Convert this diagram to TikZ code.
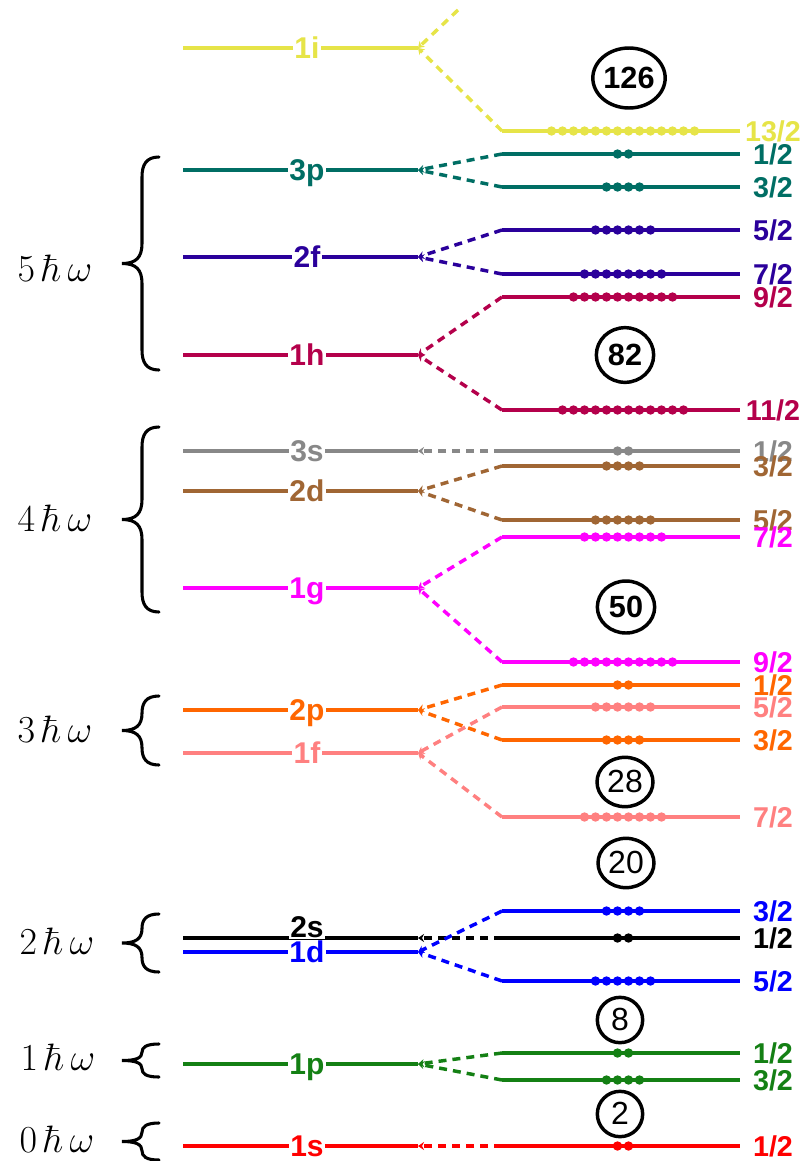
\documentclass[tikz,border=0pt]{standalone}
\usepackage{graphicx}
\usepackage[no-math]{fontspec}
\setmainfont{Liberation Sans}
\usetikzlibrary{arrows.meta,shapes.geometric}

% shell colours
\definecolor{cI}{RGB}{230,228,72}
\definecolor{cPthree}{RGB}{0,110,100}
\definecolor{cFtwo}{RGB}{42,0,155}
\definecolor{cHone}{RGB}{180,0,75}
\definecolor{cSthree}{RGB}{136,136,136}
\definecolor{cDtwo}{RGB}{160,102,52}
\definecolor{cGone}{RGB}{255,0,255}
\definecolor{cPtwo}{RGB}{255,102,0}
\definecolor{cFone}{RGB}{255,128,128}
\definecolor{cDone}{RGB}{0,0,255}
\definecolor{cPone}{RGB}{20,128,20}
\definecolor{cSone}{RGB}{255,0,0}

\tikzset{
  shellline/.style={line width=2.6pt},
  conn/.style={line width=2.6pt, dash pattern=on 6pt off 4.5pt,
    -{Stealth[length=4.5pt,width=6pt]}},
  lvl/.style={font=\fontsize{22.5}{24}\selectfont\bfseries, fill=white,
    inner xsep=1.2pt, inner ysep=1pt, text height=16pt, text depth=0pt},
  jlab/.style={font=\fontsize{21.5}{23}\selectfont\bfseries, inner sep=0pt,
    text height=15.4pt, text depth=0pt},
  magic/.style={draw, line width=2.6pt, ellipse, inner sep=0pt,
    text height=16pt, text depth=0pt},
  hw/.style={font=\Huge, inner sep=0pt},
  bracepath/.style={line width=2.3pt, line cap=round},
}

% oscillator level: name, y, colour, label, label y
\newcommand\leftlevel[5]{%
  \coordinate (#1w) at (183,#2);
  \coordinate (#1e) at (418,#2);
  \draw[shellline,#3] (#1w) -- (#1e);
  \node[lvl,text=#3] (#1lab) at (307,#5) {#4};
}
% spin-orbit level: name, y, colour, label, number of nucleons
\newcommand\rightlevel[5]{%
  \coordinate (#1w) at (502,#2);
  \coordinate (#1e) at (740,#2);
  \draw[shellline,#3] (#1w) -- (#1e);
  \foreach \k in {1,...,#5}
    \fill[#3] ({623+(\k-(#5+1)/2)*11},#2) circle (4.7);
  \node[jlab,text=#3] (#1lab) at (773,#2) {#4};
}
% curly brace: top, bottom
\newcommand\shellbrace[2]{%
  \pgfmathsetmacro\bm{(#1+#2)/2}%
  \pgfmathsetmacro\br{min(20,(#2-#1)/4)}%
  \draw[bracepath] (159,#1) .. controls (146,#1) and (142,#1+\br*0.4) .. (142,#1+\br)
    -- (142,\bm-\br) .. controls (142,\bm-\br*0.3) and (136,\bm) .. (122,\bm)
    .. controls (136,\bm) and (142,\bm+\br*0.3) .. (142,\bm+\br)
    -- (142,#2-\br) .. controls (142,#2-\br*0.4) and (146,#2) .. (159,#2);
}
\newcommand\linkto[3]{\draw[conn,#1] (#2) -- (#3);}
\newcommand\quantum[1]{\scalebox{1.15}{$#1\,\hbar\,\omega$}}

\begin{document}
\begin{tikzpicture}[x=0.75pt,y=-0.75pt]
\useasboundingbox (0,0) rectangle (805,1161);

% harmonic oscillator levels
\leftlevel{Li}{48}{cI}{1i}{48}
\leftlevel{Lpthree}{170}{cPthree}{3p}{170}
\leftlevel{Lftwo}{257}{cFtwo}{2f}{257}
\leftlevel{Lhone}{355}{cHone}{1h}{355}
\leftlevel{Lsthree}{451}{cSthree}{3s}{451}
\leftlevel{Ldtwo}{491}{cDtwo}{2d}{491}
\leftlevel{Lgone}{588}{cGone}{1g}{588}
\leftlevel{Lptwo}{710}{cPtwo}{2p}{710}
\leftlevel{Lfone}{753}{cFone}{1f}{753}
\leftlevel{Lstwo}{938}{black}{2s}{927}
\leftlevel{Ldone}{952}{cDone}{1d}{952}
\leftlevel{Lpone}{1064}{cPone}{1p}{1064}
\leftlevel{Lsone}{1146}{cSone}{1s}{1146}

% split levels
\rightlevel{Ri}{131}{cI}{13/2}{14}
\rightlevel{Rpthreea}{154}{cPthree}{1/2}{2}
\rightlevel{Rpthreeb}{187}{cPthree}{3/2}{4}
\rightlevel{Rftwoa}{230}{cFtwo}{5/2}{6}
\rightlevel{Rftwob}{274}{cFtwo}{7/2}{8}
\rightlevel{Rhonea}{297}{cHone}{9/2}{10}
\rightlevel{Rhoneb}{410}{cHone}{11/2}{12}
\rightlevel{Rsthree}{451}{cSthree}{1/2}{2}
\rightlevel{Rdtwoa}{466}{cDtwo}{3/2}{4}
\rightlevel{Rdtwob}{520}{cDtwo}{5/2}{6}
\rightlevel{Rgonea}{537}{cGone}{7/2}{8}
\rightlevel{Rgoneb}{662}{cGone}{9/2}{10}
\rightlevel{Rptwoa}{685}{cPtwo}{1/2}{2}
\rightlevel{Rfonea}{707}{cFone}{5/2}{6}
\rightlevel{Rptwob}{740}{cPtwo}{3/2}{4}
\rightlevel{Rfoneb}{817}{cFone}{7/2}{8}
\rightlevel{Rdonea}{911}{cDone}{3/2}{4}
\rightlevel{Rstwo}{938}{black}{1/2}{2}
\rightlevel{Rdoneb}{981}{cDone}{5/2}{6}
\rightlevel{Rponea}{1053}{cPone}{1/2}{2}
\rightlevel{Rponeb}{1080}{cPone}{3/2}{4}
\rightlevel{Rsone}{1146}{cSone}{1/2}{2}

% spin-orbit splitting
\coordinate (Riup) at (458,10);
\linkto{cI}{Riup}{Lie}
\linkto{cI}{Riw}{Lie}
\linkto{cPthree}{Rpthreeaw}{Lpthreee}
\linkto{cPthree}{Rpthreebw}{Lpthreee}
\linkto{cFtwo}{Rftwoaw}{Lftwoe}
\linkto{cFtwo}{Rftwobw}{Lftwoe}
\linkto{cHone}{Rhoneaw}{Lhonee}
\linkto{cHone}{Rhonebw}{Lhonee}
\linkto{cSthree}{Rsthreew}{Lsthreee}
\linkto{cDtwo}{Rdtwoaw}{Ldtwoe}
\linkto{cDtwo}{Rdtwobw}{Ldtwoe}
\linkto{cGone}{Rgoneaw}{Lgonee}
\linkto{cGone}{Rgonebw}{Lgonee}
\linkto{cPtwo}{Rptwoaw}{Lptwoe}
\linkto{cPtwo}{Rptwobw}{Lptwoe}
\linkto{cFone}{Rfoneaw}{Lfonee}
\linkto{cFone}{Rfonebw}{Lfonee}
\linkto{black}{Rstwow}{Lstwoe}
\linkto{cDone}{Rdoneaw}{Ldonee}
\linkto{cDone}{Rdonebw}{Ldonee}
\linkto{cPone}{Rponeaw}{Lponee}
\linkto{cPone}{Rponebw}{Lponee}
\linkto{cSone}{Rsonew}{Lsonee}

% magic numbers
\node[magic,minimum width=49pt,minimum height=45pt,font=\fontsize{23}{24}\selectfont\bfseries] (m126) at (629,78) {126};
\node[magic,minimum width=43pt,minimum height=41pt,font=\fontsize{23}{24}\selectfont\bfseries] (m82) at (625,355) {82};
\node[magic,minimum width=43pt,minimum height=39pt,font=\fontsize{23}{24}\selectfont\bfseries] (m50) at (626,607) {50};
\node[magic,minimum width=42pt,minimum height=37pt,font=\fontsize{24}{25}\selectfont] (m28) at (625,782) {28};
\node[magic,minimum width=42pt,minimum height=37pt,font=\fontsize{24}{25}\selectfont] (m20) at (626,863) {20};
\node[magic,minimum width=34pt,minimum height=34pt,font=\fontsize{24}{25}\selectfont] (m8) at (620,1020) {8};
\node[magic,minimum width=34pt,minimum height=34pt,font=\fontsize{24}{25}\selectfont] (m2) at (620,1114) {2};

% oscillator shells
\shellbrace{157}{370}
\shellbrace{427}{612}
\shellbrace{696}{765}
\shellbrace{914}{972}
\shellbrace{1044}{1077}
\shellbrace{1123}{1160}
\node[hw] (hwfive) at (55,268) {\quantum{5}};
\node[hw] (hwfour) at (55,518) {\quantum{4}};
\node[hw] (hwthree) at (55,729) {\quantum{3}};
\node[hw] (hwtwo) at (57,941) {\quantum{2}};
\node[hw] (hwone) at (58,1057) {\quantum{1}};
\node[hw] (hwzero) at (57,1139) {\quantum{0}};
\end{tikzpicture}
\end{document}
